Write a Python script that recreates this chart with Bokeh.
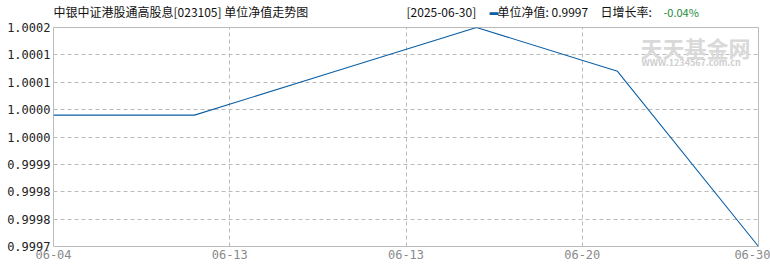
from bokeh.plotting import figure
from bokeh.models import FixedTicker, Label, ColumnDataSource, Range1d
from bokeh.layouts import column
from bokeh.embed import file_html
from bokeh.resources import INLINE

# ---- data ----
idx = [0, 1, 2, 3, 4, 5]
nav = [1.0000, 1.0000, 1.0001, 1.0002, 1.0001, 0.9997]
x_tick_pos = [0, 1.25, 2.5, 3.75, 5]
x_tick_labels = ["06-04", "06-13", "06-13", "06-20", "06-30"]
y_min, y_max = 0.9997, 1.0002
y_tick_vals = [0.9997, 0.9997625, 0.999825, 0.9998875, 0.99995,
               1.0000125, 1.000075, 1.0001375, 1.0002]
y_tick_labels = ["0.9997", "0.9998", "0.9998", "0.9999", "1.0000",
                 "1.0000", "1.0001", "1.0001", "1.0002"]
title_text = "中银中证港股通高股息[023105] 单位净值走势图"
date_text = "[2025-06-30]"
nav_label = "单位净值: 0.9997"
rate_label = "日增长率:"
rate_value = "-0.04%"

font = "Noto Sans CJK SC"
LEFT, RIGHT = 53, 12

# ---- header strip ----
HEAD_H = 20
head = figure(width=770, height=HEAD_H, output_backend="svg", toolbar_location=None,
              x_range=Range1d(0, 770 - LEFT - RIGHT), y_range=Range1d(0, HEAD_H),
              x_axis_type=None, y_axis_type=None, min_border=0,
              min_border_left=LEFT, min_border_right=RIGHT)
head.outline_line_color = None
head.xgrid.visible = False
head.ygrid.visible = False


def add_label(fig, x, y, text, color="#111111", size="12px", style="normal", align="left"):
    # x in page pixels from the left edge, y in pixels from the frame bottom
    fig.add_layout(Label(x=x - LEFT, y=y, x_units="screen", y_units="screen", text=text,
                         text_color=color, text_font=font, text_font_size=size,
                         text_font_style=style, text_align=align,
                         text_baseline="middle"))


hy = HEAD_H - 11
add_label(head, 53, hy, title_text)
add_label(head, 406, hy, date_text)
add_label(head, 489, hy, "▬", color="#0b5fa5", size="9px")
add_label(head, 497, hy, nav_label)
add_label(head, 600, hy, rate_label)
add_label(head, 663, hy, rate_value, color="#1a8a3a", size="11px")

# ---- main chart ----
p = figure(width=770, height=270 - HEAD_H, output_backend="svg", toolbar_location=None,
           x_range=Range1d(0, 5), y_range=Range1d(y_min, y_max),
           min_border_left=LEFT, min_border_right=RIGHT, min_border_top=27 - HEAD_H,
           min_border_bottom=24)
p.background_fill_color = "white"
p.border_fill_color = "white"
p.outline_line_color = "#bbbbbb"
p.outline_line_width = 1

src = ColumnDataSource(dict(x=idx, y=nav))
p.line("x", "y", source=src, line_color="#0b5fa5", line_width=1.1)

p.xaxis.ticker = FixedTicker(ticks=x_tick_pos)
p.xaxis.major_label_overrides = {k: v for k, v in zip(x_tick_pos, x_tick_labels)}
p.yaxis.ticker = FixedTicker(ticks=y_tick_vals)
p.yaxis.major_label_overrides = {k: v for k, v in zip(y_tick_vals, y_tick_labels)}
for ax in (p.xaxis[0], p.yaxis[0]):
    ax.axis_line_color = None
    ax.major_tick_line_color = None
    ax.major_tick_out = 0
    ax.major_tick_in = 0
    ax.minor_tick_line_color = None
    ax.major_label_text_font = "DejaVu Sans Mono"
    ax.major_label_text_font_size = "12px"
p.yaxis.major_label_text_color = "#222222"
p.yaxis.major_label_standoff = 3
p.xaxis.major_label_text_color = "#8a8a8a"
p.xaxis.major_label_standoff = 3

p.xgrid.grid_line_color = "#bbbbbb"
p.xgrid.grid_line_dash = "4 3"
p.ygrid.grid_line_color = "#bbbbbb"
p.ygrid.grid_line_dash = "4 3"

# watermark inside the plot frame
add_label(p, 640, 219 - 19, "天天基金网", color="#d9d9d9", size="22px",
          style="bold", align="left")
add_label(p, 641, 219 - 35, "WWW.1234567.com.cn", color="#cfcfcf",
          size="9px", style="bold", align="left")

layout = column(head, p, spacing=0)
open("out.html", "w").write(file_html(layout, INLINE))
